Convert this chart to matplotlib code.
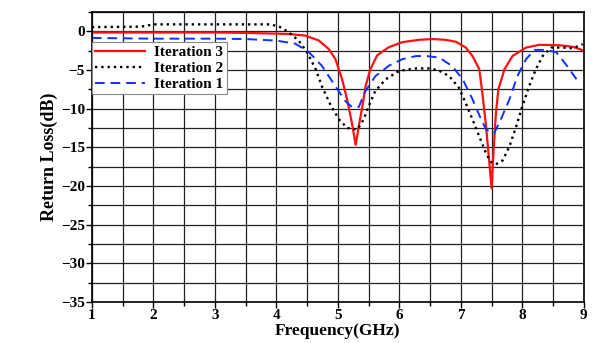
import numpy as np
import matplotlib.pyplot as plt
from matplotlib.ticker import MultipleLocator

# values
freq3 = [1.0, 2.0, 3.0, 3.5, 4.0, 4.2, 4.47, 4.69, 4.85, 4.96, 5.07, 5.15, 5.23, 5.29, 5.34,
         5.40, 5.45, 5.53, 5.64, 5.83, 6.05, 6.32, 6.55, 6.75, 6.92, 7.08, 7.19, 7.3, 7.35,
         7.41, 7.46, 7.5, 7.53, 7.57, 7.61, 7.71, 7.84, 8.06, 8.28, 8.6, 8.82, 9.0]
rl3 = [-0.15, -0.15, -0.15, -0.2, -0.3, -0.35, -0.55, -1.18, -2.27, -3.58, -6.2, -8.8, -11.9, -14.7, -12.3,
       -9.7, -7.1, -4.9, -3.1, -2.05, -1.4, -1.1, -1.0, -1.1, -1.35, -2.1, -3.2, -4.9, -8.0,
       -12.3, -16.7, -20.3, -15.8, -10.6, -7.5, -4.9, -3.2, -2.1, -1.74, -1.8, -2.0, -2.5]

freq2 = [1.0, 1.8, 2.0, 3.0, 3.9, 4.05, 4.2, 4.36, 4.5, 4.64, 4.74, 4.88, 5.02, 5.15, 5.32, 5.42,
         5.5, 5.61, 5.78, 6.0, 6.27, 6.5, 6.65, 6.81, 6.97, 7.08, 7.19, 7.3, 7.41, 7.49, 7.57,
         7.68, 7.79, 7.9, 8.0, 8.11, 8.22, 8.33, 8.47, 8.66, 8.82, 8.98]
rl2 = [0.55, 0.6, 0.9, 0.9, 0.9, 0.6, -0.1, -1.18, -2.7, -4.9, -7.1, -9.5, -11.4, -12.5, -12.7, -11.4,
       -9.7, -7.7, -6.2, -5.1, -4.8, -4.8, -5.1, -5.8, -7.3, -9.3, -11.4, -13.6, -15.8, -16.9, -17.2,
       -16.7, -14.9, -12.3, -9.7, -7.1, -4.9, -3.2, -2.1, -2.1, -2.2, -1.65]

freq1 = [1.0, 2.0, 3.0, 3.5, 4.0, 4.31, 4.53, 4.74, 4.96, 5.12, 5.23, 5.34, 5.45, 5.61, 5.83,
         6.05, 6.27, 6.45, 6.65, 6.86, 7.03, 7.19, 7.33, 7.41, 7.54, 7.65, 7.79, 7.92, 8.06,
         8.2, 8.39, 8.55, 8.71, 8.88]
rl1 = [-0.85, -0.95, -0.95, -1.0, -1.2, -1.6, -2.7, -4.45, -7.1, -9.0, -9.8, -9.8, -7.7, -5.8, -4.45,
       -3.6, -3.2, -3.2, -3.4, -4.5, -6.2, -8.8, -11.4, -12.7, -13.2, -11.4, -8.8, -5.8, -3.6,
       -2.4, -2.4, -2.7, -4.3, -6.2]

plt.rcParams['font.family'] = ['Liberation Serif', 'DejaVu Serif']
plt.rcParams['font.weight'] = 'bold'

fig = plt.figure(figsize=(6.12, 3.43), dpi=100)
ax = fig.add_axes([0.150, 0.12, 0.804, 0.845])

ax.plot(freq3, rl3, '-', color='#ff1010', linewidth=1.6, label='Iteration 3')
ax.plot(freq2, rl2, ':', color='black', linewidth=1.7, label='Iteration 2')
ax.plot(freq1, rl1, '--', color='#1030ff', linewidth=1.4, dashes=(5, 3), label='Iteration 1')

ax.set_xlim(1, 9)
ax.set_ylim(-35, 2.5)
ax.xaxis.set_major_locator(MultipleLocator(1))
ax.xaxis.set_minor_locator(MultipleLocator(0.5))
ax.yaxis.set_major_locator(MultipleLocator(5))
ax.yaxis.set_minor_locator(MultipleLocator(2.5))
ax.grid(which='both', color='#222222', linewidth=0.9)
ax.set_axisbelow(True)
ax.tick_params(which='major', length=4, width=1, labelsize=11, pad=1)
ax.tick_params(which='minor', length=3, width=1)
for s in ax.spines.values():
    s.set_linewidth(1.2)

ax.set_xlabel('Frequency(GHz)', fontsize=12.5, fontweight='bold', labelpad=1)
ax.set_ylabel('Return Loss(dB)', fontsize=13, fontweight='bold', labelpad=2)

leg = ax.legend(loc='upper left', bbox_to_anchor=(0.0, 0.895), frameon=True, fancybox=False,
                framealpha=1, edgecolor='#888888', fontsize=11, handlelength=3.3,
                borderpad=0.2, labelspacing=0.15, handletextpad=0.6, borderaxespad=0)
leg.get_frame().set_linewidth(0.8)

fig.savefig('out.png', dpi=100)
